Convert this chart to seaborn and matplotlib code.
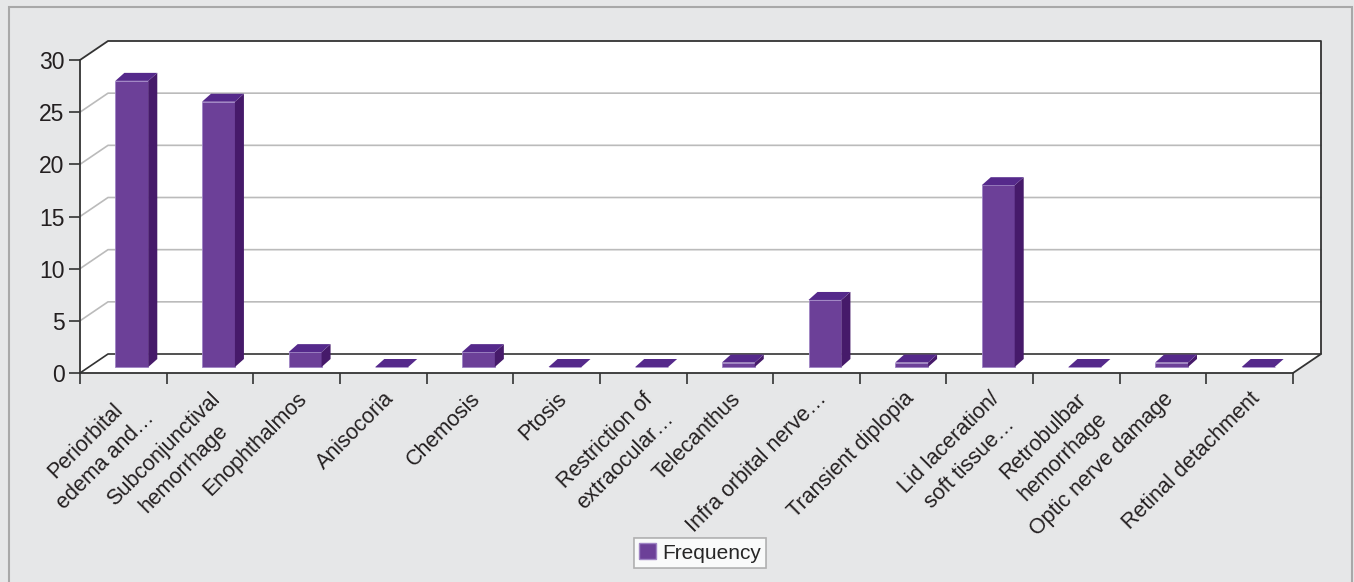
import numpy as np
import pandas as pd
import matplotlib
matplotlib.use('Agg')
import matplotlib.pyplot as plt
import seaborn as sns
from matplotlib.patches import Polygon, Rectangle, Patch

# ── Data ─────────────────────────────────────────────────────────────────────
categories = ['Periorbital edema', 'Subconjunctival hemorrhage', 'Enophthalmos',
              'Anisocoria', 'Chemosis', 'Ptosis', 'Restriction of extraocular',
              'Telecanthus', 'Infra orbital nerve', 'Transient diplopia',
              'Lid laceration', 'Retrobulbar hemorrhage', 'Optic nerve damage',
              'Retinal detachment']
tick_labels = ['Periorbital\nedema and…', 'Subconjunctival\nhemorrhage', 'Enophthalmos',
               'Anisocoria', 'Chemosis', 'Ptosis', 'Restriction of\nextraocular…',
               'Telecanthus', 'Infra orbital nerve…', 'Transient diplopia',
               'Lid laceration/\nsoft tissue…', 'Retrobulbar\nhemorrhage',
               'Optic nerve damage', 'Retinal detachment']
frequency = [28, 26, 2, 0, 2, 0, 0, 1, 7, 1, 18, 0, 1, 0]
y_ticks = [0, 5, 10, 15, 20, 25, 30]

FRONT = '#6c4098'
SIDE = '#461a6a'
TOP = '#55298b'
DARK = '#333333'
GRID = '#bbbbbb'
TEXT = '#231f20'

sns.set_style('white')
plt.rcParams['font.family'] = ['Liberation Sans', 'DejaVu Sans']

W, H = 1354, 582
fig = plt.figure(figsize=(W / 100, H / 100), dpi=100)
fig.patch.set_facecolor('#e6e7e8')
fig.patches.append(Rectangle((9 / W, -0.05), (1352 - 9) / W, 1.05 - 7 / H,
                             transform=fig.transFigure, fill=False,
                             edgecolor='#a8a8a8', lw=1.5))

# front plane of the 3D box
ax = fig.add_axes([80 / W, (H - 373) / H, 1213 / W, 313 / H])
ax.set_facecolor('none')

n = len(categories)
xu = 1213 / n          # px per category
yu = 313 / 30          # px per unit
DX, DY = 28 / xu, 19 / yu      # depth of the box (back wall offset)
BX, B0 = 8.5 / xu, 6 / yu      # bar front face offset
SX, SY = 9 / xu, 8 / yu        # bar depth

df = pd.DataFrame({'symptom': categories, 'frequency': frequency})
sns.barplot(data=df, x='symptom', y='frequency', color=FRONT, saturation=1,
            width=0.38, edgecolor='#9f84c4', linewidth=0.6, ax=ax, zorder=3)
bars = list(ax.patches)

x0, x1 = -0.5, n - 0.5
# white box: left wall, back wall, floor
box = Polygon([(x0, 0), (x0, 30), (x0 + DX, 30 + DY), (x1 + DX, 30 + DY),
               (x1 + DX, DY), (x1, 0)], closed=True, facecolor='white',
              edgecolor='none', zorder=0, clip_on=False)
ax.add_patch(box)

# gridlines on the back wall (with diagonals on the side wall)
for v in y_ticks[1:-1]:
    ax.plot([x0, x0 + DX, x1 + DX], [v, v + DY, v + DY], color=GRID, lw=1.2,
            zorder=1, clip_on=False)
# box outline
ax.plot([x0, x0 + DX, x1 + DX, x1 + DX, x1], [30, 30 + DY, 30 + DY, DY, 0],
        color=DARK, lw=1.3, zorder=1, clip_on=False)
ax.plot([x0, x0 + DX, x1 + DX], [0, DY, DY], color=DARK, lw=1.2, zorder=1,
        clip_on=False)

# bars -> 3D prisms
for p, v in zip(bars, frequency):
    bx = p.get_x() + BX
    w = p.get_width()
    top = max(v, B0)
    p.set_x(bx)
    p.set_y(B0)
    p.set_height(top - B0)
    p.set_clip_on(False)
    side = Polygon([(bx + w, B0), (bx + w, top), (bx + w + SX, top + SY),
                    (bx + w + SX, B0 + SY)], closed=True, facecolor=SIDE,
                   edgecolor='none', zorder=3, clip_on=False)
    cap = Polygon([(bx, top), (bx + w, top), (bx + w + SX, top + SY),
                   (bx + SX, top + SY)], closed=True, facecolor=TOP,
                  edgecolor='none', zorder=3, clip_on=False)
    ax.add_patch(side)
    ax.add_patch(cap)

ax.set_xlim(x0, x1)
ax.set_ylim(0, 30)
ax.set_xlabel('')
ax.set_ylabel('')

for s in ['top', 'right']:
    ax.spines[s].set_visible(False)
for s in ['left', 'bottom']:
    ax.spines[s].set_color(DARK)
    ax.spines[s].set_linewidth(1.3)
    ax.spines[s].set_zorder(2)

ax.set_yticks(y_ticks)
ax.tick_params(axis='y', direction='out', length=8, width=1.2, color=DARK,
               labelsize=16.5, labelcolor=TEXT, pad=3, left=True)
ax.set_xticks(np.arange(n))
ax.set_xticklabels(tick_labels, rotation=45, ha='right', va='top',
                   rotation_mode='anchor', multialignment='center',
                   linespacing=1.45)
ax.set_xticks(np.arange(-0.5, n, 1), minor=True)
ax.tick_params(axis='x', which='major', length=0, pad=11, labelsize=15.5,
               labelcolor=TEXT)
ax.tick_params(axis='x', which='minor', direction='out', length=8, width=1.2,
               color=DARK, bottom=True)

leg = ax.legend(handles=[Patch(facecolor=FRONT, edgecolor='#9f84c4', label='Frequency')],
                loc='center', bbox_to_anchor=(700 / W, (H - 553) / H),
                bbox_transform=fig.transFigure, fancybox=False, fontsize=15,
                handlelength=0.8, handleheight=0.8, handletextpad=0.3,
                borderpad=0.25, borderaxespad=0)
leg.get_frame().set_edgecolor('#a0a0a0')
leg.get_frame().set_linewidth(1.2)

fig.savefig('out.png', dpi=100, facecolor=fig.get_facecolor())
